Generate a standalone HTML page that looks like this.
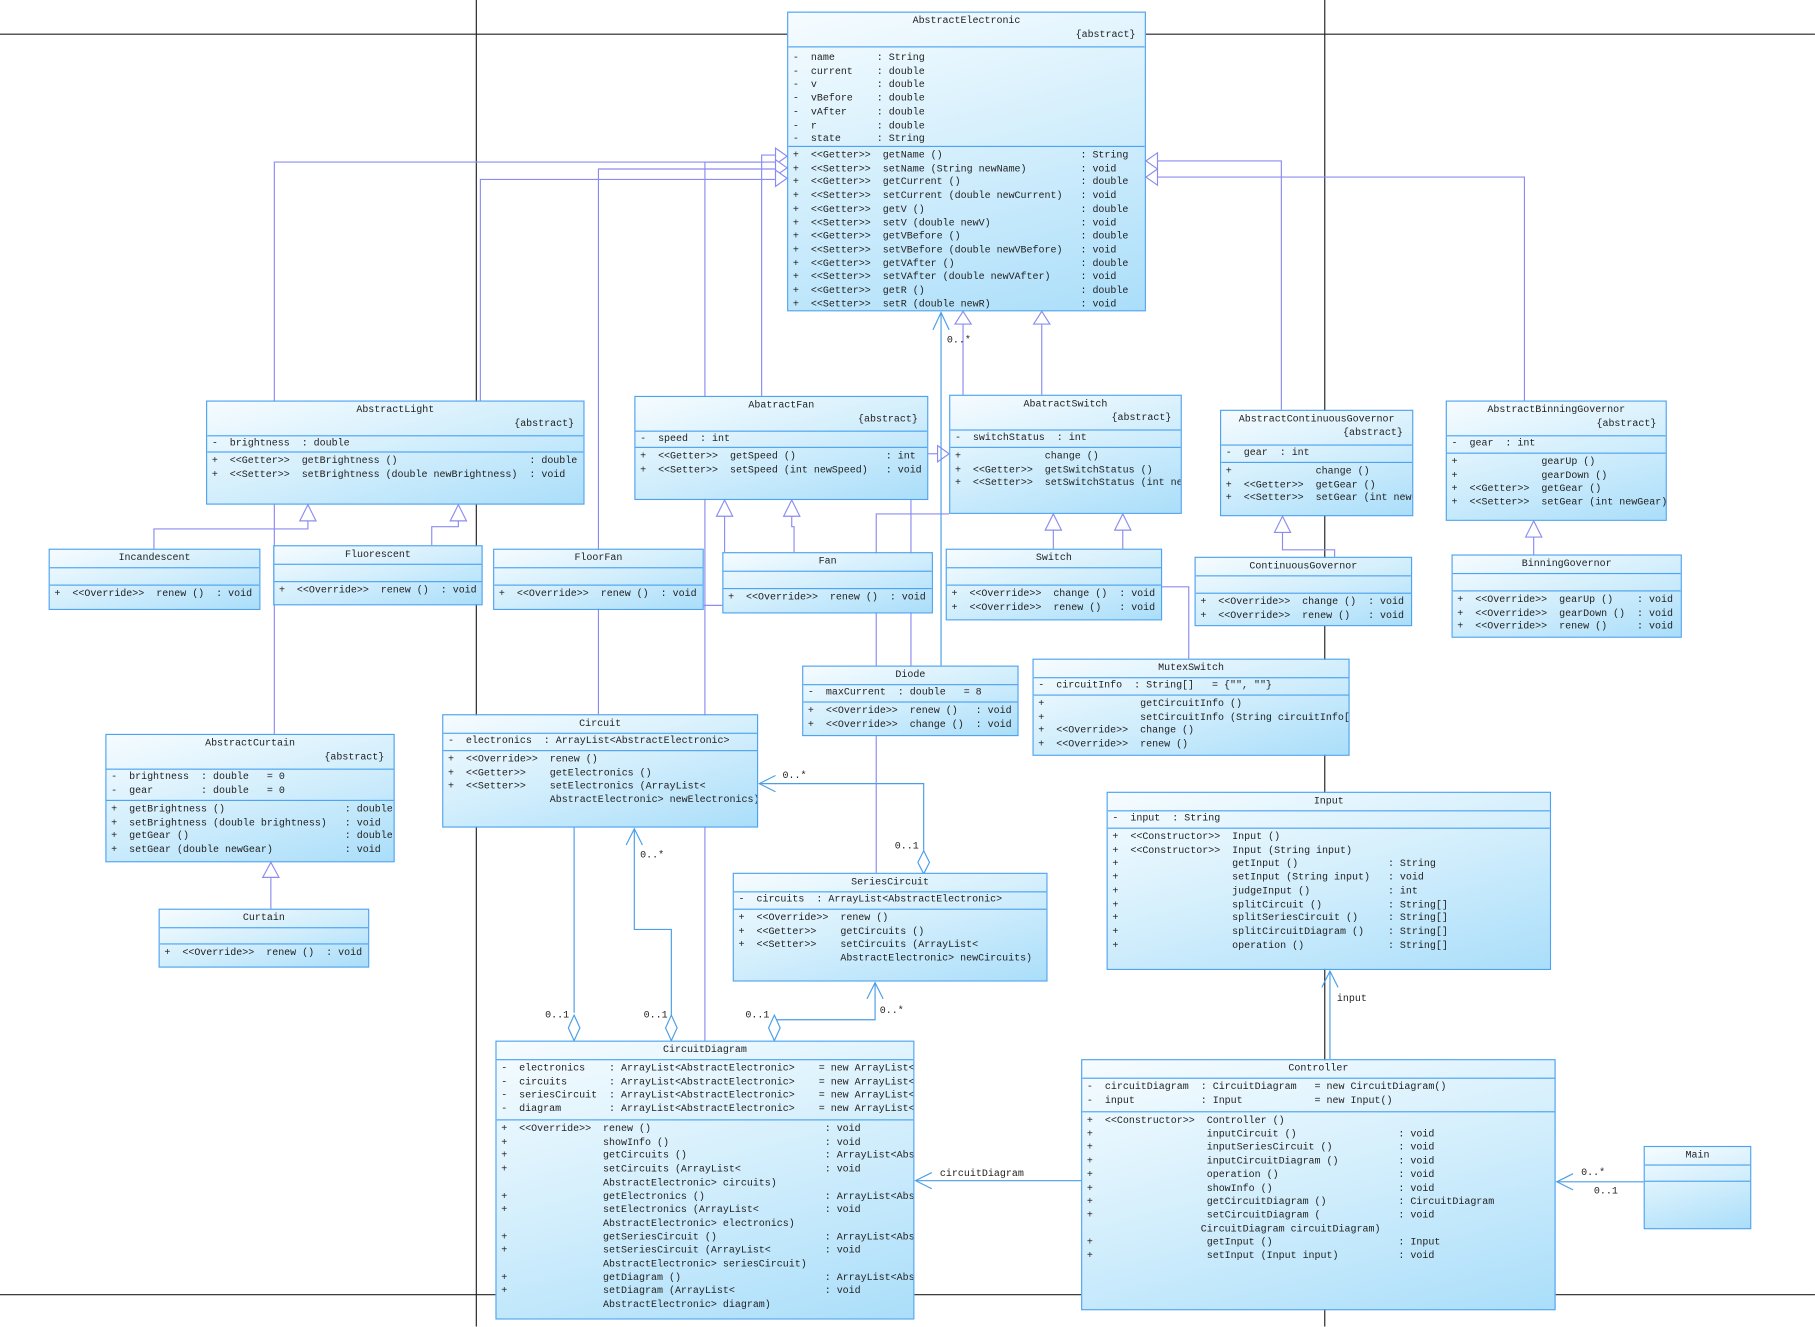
<!DOCTYPE html>
<html><head><meta charset="utf-8"><style>
html,body{margin:0;padding:0;background:#fff;width:1815px;height:1326px;overflow:hidden}
#w{position:absolute;left:0;top:0;width:1568px;height:1146px;transform:scale(1.1575);transform-origin:0 0}
.b{position:absolute;border:1px solid #4da3f0;background:linear-gradient(165deg,#f6fcff 0%,#d2eefc 50%,#aadefa 100%);font:8.64px/11.7px "Liberation Mono",monospace;color:#222;overflow:hidden;box-sizing:border-box}
.h{border-bottom:1px solid #4da3f0;box-sizing:border-box;text-align:center;white-space:pre;padding-top:2px}
.h .a{text-align:right;padding-right:8px}
.s{border-bottom:1px solid #4da3f0;box-sizing:border-box;white-space:pre;padding:1px 4px}
.o{white-space:pre;padding:2px 4px}
svg{position:absolute;left:0;top:0}
</style></head><body><div id="w">
<svg width="1568" height="1146" viewBox="0 0 1568 1146">
<g stroke="#222" stroke-width="1" fill="none">
<line x1="0" y1="29.5" x2="680" y2="29.5"/><line x1="990" y1="29.5" x2="1568" y2="29.5"/>
<line x1="411.5" y1="0" x2="411.5" y2="1146"/><line x1="1144.5" y1="0" x2="1144.5" y2="1146"/>
<line x1="0" y1="1118.5" x2="428" y2="1118.5"/><line x1="790" y1="1118.5" x2="934" y2="1118.5"/><line x1="1344" y1="1118.5" x2="1568" y2="1118.5"/>
</g>
<g stroke="#8c8cf0" stroke-width="1" fill="none">
<polyline points="237,634 237,140 670,140"/>
<polyline points="415,346 415,155 670,155"/>
<polyline points="517,617 517,146 670,146"/>
<polyline points="609,899 609,140 660,140"/>
<polyline points="658,342 658,134 670,134"/>
<polygon points="670,128 680,135 670,142" fill="#fff"/>
<polygon points="670,138 680,145 670,152" fill="#fff"/>
<polygon points="670,147 680,154 670,161" fill="#fff"/>
<polyline points="1107,354 1107,139 1000,139"/>
<polyline points="1317,346 1317,153 1000,153"/>
<polygon points="1000,132 990,139 1000,146" fill="#fff"/>
<polygon points="1000,146 990,153 1000,160" fill="#fff"/>
<polyline points="832,341 832,280"/><polygon points="825,280 832,269 839,280" fill="#fff"/>
<polyline points="900,341 900,280"/><polygon points="893,280 900,269 907,280" fill="#fff"/>
<polyline points="802,392 810,392"/><polygon points="810,385 820,392 810,399" fill="#fff"/>
<polyline points="626,446 626,477"/><polygon points="619,446 626,432 633,446" fill="#fff"/>
<polyline points="684,446 684,455 686,455 686,477"/><polygon points="677,446 684,432 691,446" fill="#fff"/>
<polyline points="757,575 757,444 820,444"/>
<polyline points="787,575 787,432"/>
<polyline points="910,458 910,474"/><polygon points="903,458 910,444 917,458" fill="#fff"/>
<polyline points="970,458 970,474"/><polygon points="963,458 970,444 977,458" fill="#fff"/>
<polyline points="1004,507 1027,507 1027,569"/>
<polyline points="1108,460 1108,475 1153,475 1153,481"/><polygon points="1101,460 1108,446 1115,460" fill="#fff"/>
<polyline points="1325,464 1325,479"/><polygon points="1318,464 1325,450 1332,464" fill="#fff"/>
<polyline points="266,450 266,457 133,457 133,474"/><polygon points="259,450 266,436 273,450" fill="#fff"/>
<polyline points="396,450 396,455 373,455 373,471"/><polygon points="389,450 396,436 403,450" fill="#fff"/>
<polyline points="234,758 234,785"/><polygon points="227,758 234,745 241,758" fill="#fff"/>
<polyline points="757,636 757,754"/>
<polyline points="608,523 624,523"/>
</g>
<g stroke="#4a9ee8" stroke-width="1" fill="none">
<polyline points="813,575 813,270"/><polyline points="806,285 813,270 820,285"/>
<polyline points="798,735 798,677 656,677"/><polyline points="670,670 656,677 670,684"/>
<polygon points="798,735 803,745 798,755 793,745" fill="#fff"/>
<polyline points="496,875 496,715"/>
<polygon points="496,877 501,888 496,899 491,888" fill="#fff"/>
<polyline points="580,877 580,803 548,803 548,716"/><polyline points="541,730 548,716 555,730"/>
<polygon points="580,877 585,888 580,899 575,888" fill="#fff"/>
<polyline points="669,877 669,881 756,881 756,849"/><polyline points="749,863 756,849 763,863"/>
<polygon points="669,877 674,888 669,899 664,888" fill="#fff"/>
<polyline points="934,1020 791,1020"/><polyline points="805,1013 791,1020 805,1027"/>
<polyline points="1149,915 1149,839"/><polyline points="1142,853 1149,839 1156,853"/>
<polyline points="1420,1021 1345,1021"/><polyline points="1359,1014 1345,1021 1359,1028"/>
</g>
<g font-family="Liberation Mono, monospace" font-size="8.64" fill="#222">
<text x="818" y="296">0..*</text>
<text x="676" y="672">0..*</text>
<text x="773" y="733">0..1</text>
<text x="553" y="741">0..*</text>
<text x="471" y="879">0..1</text>
<text x="556" y="879">0..1</text>
<text x="644" y="879">0..1</text>
<text x="760" y="875">0..*</text>
<text x="812" y="1016">circuitDiagram</text>
<text x="1155" y="865">input</text>
<text x="1366" y="1015">0..*</text>
<text x="1377" y="1031">0..1</text>
</g>
</svg>

<div class="b" style="left:680px;top:10px;width:310px;height:259px">
<div class="h" style="height:30px">AbstractElectronic<div class="a">{abstract}</div></div>
<div class="s" style="height:86px;padding-top:4px">-  name       : String
-  current    : double
-  v          : double
-  vBefore    : double
-  vAfter     : double
-  r          : double
-  state      : String</div>
<div class="o">+  &lt;&lt;Getter&gt;&gt;  getName ()                       : String
+  &lt;&lt;Setter&gt;&gt;  setName (String newName)         : void
+  &lt;&lt;Getter&gt;&gt;  getCurrent ()                    : double
+  &lt;&lt;Setter&gt;&gt;  setCurrent (double newCurrent)   : void
+  &lt;&lt;Getter&gt;&gt;  getV ()                          : double
+  &lt;&lt;Setter&gt;&gt;  setV (double newV)               : void
+  &lt;&lt;Getter&gt;&gt;  getVBefore ()                    : double
+  &lt;&lt;Setter&gt;&gt;  setVBefore (double newVBefore)   : void
+  &lt;&lt;Getter&gt;&gt;  getVAfter ()                     : double
+  &lt;&lt;Setter&gt;&gt;  setVAfter (double newVAfter)     : void
+  &lt;&lt;Getter&gt;&gt;  getR ()                          : double
+  &lt;&lt;Setter&gt;&gt;  setR (double newR)               : void</div></div>

<div class="b" style="left:178px;top:346px;width:327px;height:90px">
<div class="h" style="height:30px">AbstractLight<div class="a">{abstract}</div></div>
<div class="s" style="height:14px">-  brightness  : double</div>
<div class="o">+  &lt;&lt;Getter&gt;&gt;  getBrightness ()                      : double
+  &lt;&lt;Setter&gt;&gt;  setBrightness (double newBrightness)  : void</div></div>

<div class="b" style="left:548px;top:342px;width:254px;height:90px">
<div class="h" style="height:30px">AbatractFan<div class="a">{abstract}</div></div>
<div class="s" style="height:14px">-  speed  : int</div>
<div class="o">+  &lt;&lt;Getter&gt;&gt;  getSpeed ()               : int
+  &lt;&lt;Setter&gt;&gt;  setSpeed (int newSpeed)   : void</div></div>

<div class="b" style="left:820px;top:341px;width:201px;height:103px">
<div class="h" style="height:30px">AbatractSwitch<div class="a">{abstract}</div></div>
<div class="s" style="height:15px">-  switchStatus  : int</div>
<div class="o">+              change ()
+  &lt;&lt;Getter&gt;&gt;  getSwitchStatus ()
+  &lt;&lt;Setter&gt;&gt;  setSwitchStatus (int newSwitchStatus)</div></div>

<div class="b" style="left:1054px;top:354px;width:167px;height:92px">
<div class="h" style="height:30px">AbstractContinuousGovernor<div class="a">{abstract}</div></div>
<div class="s" style="height:15px">-  gear  : int</div>
<div class="o">+              change ()
+  &lt;&lt;Getter&gt;&gt;  getGear ()
+  &lt;&lt;Setter&gt;&gt;  setGear (int newGear)</div></div>

<div class="b" style="left:1249px;top:346px;width:191px;height:104px">
<div class="h" style="height:30px">AbstractBinningGovernor<div class="a">{abstract}</div></div>
<div class="s" style="height:15px">-  gear  : int</div>
<div class="o">+              gearUp ()
+              gearDown ()
+  &lt;&lt;Getter&gt;&gt;  getGear ()
+  &lt;&lt;Setter&gt;&gt;  setGear (int newGear)</div></div>

<div class="b" style="left:42px;top:474px;width:183px;height:53px">
<div class="h" style="height:16px">Incandescent</div><div class="s" style="height:15px"></div>
<div class="o">+  &lt;&lt;Override&gt;&gt;  renew ()  : void</div></div>

<div class="b" style="left:236px;top:471px;width:181px;height:52px">
<div class="h" style="height:16px">Fluorescent</div><div class="s" style="height:15px"></div>
<div class="o">+  &lt;&lt;Override&gt;&gt;  renew ()  : void</div></div>

<div class="b" style="left:426px;top:474px;width:182px;height:53px">
<div class="h" style="height:16px">FloorFan</div><div class="s" style="height:15px"></div>
<div class="o">+  &lt;&lt;Override&gt;&gt;  renew ()  : void</div></div>

<div class="b" style="left:624px;top:477px;width:182px;height:53px">
<div class="h" style="height:16px">Fan</div><div class="s" style="height:15px"></div>
<div class="o">+  &lt;&lt;Override&gt;&gt;  renew ()  : void</div></div>

<div class="b" style="left:817px;top:474px;width:187px;height:62px">
<div class="h" style="height:16px">Switch</div><div class="s" style="height:15px"></div>
<div class="o">+  &lt;&lt;Override&gt;&gt;  change ()  : void
+  &lt;&lt;Override&gt;&gt;  renew ()   : void</div></div>

<div class="b" style="left:1032px;top:481px;width:188px;height:60px">
<div class="h" style="height:16px">ContinuousGovernor</div><div class="s" style="height:15px"></div>
<div class="o">+  &lt;&lt;Override&gt;&gt;  change ()  : void
+  &lt;&lt;Override&gt;&gt;  renew ()   : void</div></div>

<div class="b" style="left:1254px;top:479px;width:199px;height:72px">
<div class="h" style="height:16px">BinningGovernor</div><div class="s" style="height:15px"></div>
<div class="o">+  &lt;&lt;Override&gt;&gt;  gearUp ()    : void
+  &lt;&lt;Override&gt;&gt;  gearDown ()  : void
+  &lt;&lt;Override&gt;&gt;  renew ()     : void</div></div>

<div class="b" style="left:693px;top:575px;width:187px;height:61px">
<div class="h" style="height:16px">Diode</div>
<div class="s" style="height:15px">-  maxCurrent  : double   = 8</div>
<div class="o">+  &lt;&lt;Override&gt;&gt;  renew ()   : void
+  &lt;&lt;Override&gt;&gt;  change ()  : void</div></div>

<div class="b" style="left:892px;top:569px;width:274px;height:84px">
<div class="h" style="height:16px">MutexSwitch</div>
<div class="s" style="height:15px">-  circuitInfo  : String[]   = {"", ""}</div>
<div class="o">+                getCircuitInfo ()
+                setCircuitInfo (String circuitInfo[])
+  &lt;&lt;Override&gt;&gt;  change ()
+  &lt;&lt;Override&gt;&gt;  renew ()</div></div>

<div class="b" style="left:382px;top:617px;width:273px;height:98px">
<div class="h" style="height:16px">Circuit</div>
<div class="s" style="height:15px">-  electronics  : ArrayList&lt;AbstractElectronic&gt;</div>
<div class="o">+  &lt;&lt;Override&gt;&gt;  renew ()
+  &lt;&lt;Getter&gt;&gt;    getElectronics ()
+  &lt;&lt;Setter&gt;&gt;    setElectronics (ArrayList&lt;
                 AbstractElectronic&gt; newElectronics)</div></div>

<div class="b" style="left:91px;top:634px;width:250px;height:111px">
<div class="h" style="height:30px">AbstractCurtain<div class="a">{abstract}</div></div>
<div class="s" style="height:27px">-  brightness  : double   = 0
-  gear        : double   = 0</div>
<div class="o">+  getBrightness ()                    : double
+  setBrightness (double brightness)   : void
+  getGear ()                          : double
+  setGear (double newGear)            : void</div></div>

<div class="b" style="left:137px;top:785px;width:182px;height:51px">
<div class="h" style="height:16px">Curtain</div><div class="s" style="height:14px"></div>
<div class="o">+  &lt;&lt;Override&gt;&gt;  renew ()  : void</div></div>

<div class="b" style="left:956px;top:684px;width:384px;height:154px">
<div class="h" style="height:16px">Input</div>
<div class="s" style="height:15px">-  input  : String</div>
<div class="o">+  &lt;&lt;Constructor&gt;&gt;  Input ()
+  &lt;&lt;Constructor&gt;&gt;  Input (String input)
+                   getInput ()               : String
+                   setInput (String input)   : void
+                   judgeInput ()             : int
+                   splitCircuit ()           : String[]
+                   splitSeriesCircuit ()     : String[]
+                   splitCircuitDiagram ()    : String[]
+                   operation ()              : String[]</div></div>

<div class="b" style="left:633px;top:754px;width:272px;height:94px">
<div class="h" style="height:16px">SeriesCircuit</div>
<div class="s" style="height:15px">-  circuits  : ArrayList&lt;AbstractElectronic&gt;</div>
<div class="o">+  &lt;&lt;Override&gt;&gt;  renew ()
+  &lt;&lt;Getter&gt;&gt;    getCircuits ()
+  &lt;&lt;Setter&gt;&gt;    setCircuits (ArrayList&lt;
                 AbstractElectronic&gt; newCircuits)</div></div>

<div class="b" style="left:428px;top:899px;width:362px;height:241px">
<div class="h" style="height:16px">CircuitDiagram</div>
<div class="s" style="height:52px;padding-top:2px">-  electronics    : ArrayList&lt;AbstractElectronic&gt;    = new ArrayList&lt;AbstractElectronic&gt;()
-  circuits       : ArrayList&lt;AbstractElectronic&gt;    = new ArrayList&lt;AbstractElectronic&gt;()
-  seriesCircuit  : ArrayList&lt;AbstractElectronic&gt;    = new ArrayList&lt;AbstractElectronic&gt;()
-  diagram        : ArrayList&lt;AbstractElectronic&gt;    = new ArrayList&lt;AbstractElectronic&gt;()</div>
<div class="o">+  &lt;&lt;Override&gt;&gt;  renew ()                             : void
+                showInfo ()                          : void
+                getCircuits ()                       : ArrayList&lt;AbstractElectronic&gt;
+                setCircuits (ArrayList&lt;              : void
                 AbstractElectronic&gt; circuits)
+                getElectronics ()                    : ArrayList&lt;AbstractElectronic&gt;
+                setElectronics (ArrayList&lt;           : void
                 AbstractElectronic&gt; electronics)
+                getSeriesCircuit ()                  : ArrayList&lt;AbstractElectronic&gt;
+                setSeriesCircuit (ArrayList&lt;         : void
                 AbstractElectronic&gt; seriesCircuit)
+                getDiagram ()                        : ArrayList&lt;AbstractElectronic&gt;
+                setDiagram (ArrayList&lt;               : void
                 AbstractElectronic&gt; diagram)</div></div>

<div class="b" style="left:934px;top:915px;width:410px;height:217px">
<div class="h" style="height:16px">Controller</div>
<div class="s" style="height:29px;padding-top:2px">-  circuitDiagram  : CircuitDiagram   = new CircuitDiagram()
-  input           : Input            = new Input()</div>
<div class="o">+  &lt;&lt;Constructor&gt;&gt;  Controller ()
+                   inputCircuit ()                 : void
+                   inputSeriesCircuit ()           : void
+                   inputCircuitDiagram ()          : void
+                   operation ()                    : void
+                   showInfo ()                     : void
+                   getCircuitDiagram ()            : CircuitDiagram
+                   setCircuitDiagram (             : void
                   CircuitDiagram circuitDiagram)
+                   getInput ()                     : Input
+                   setInput (Input input)          : void</div></div>

<div class="b" style="left:1420px;top:990px;width:93px;height:72px">
<div class="h" style="height:16px">Main</div><div class="s" style="height:14px"></div></div>
</div></body></html>
